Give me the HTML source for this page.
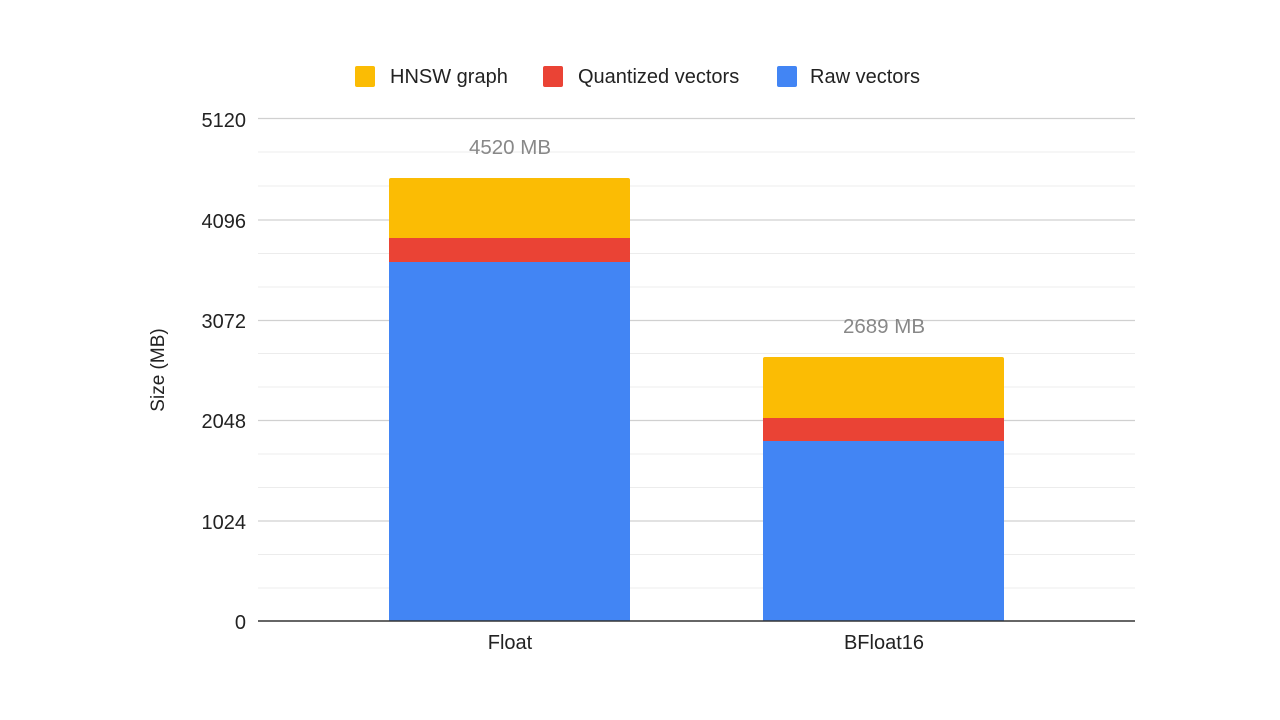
<!DOCTYPE html>
<html><head><meta charset="utf-8"><style>
html,body{margin:0;padding:0;background:#fff}
svg{display:block;font-family:"Liberation Sans",Arial,sans-serif}
</style></head><body>
<svg width="1280" height="720" viewBox="0 0 1280 720">
<g stroke="#ececec" stroke-width="1">
<line x1="258" x2="1135" y1="152" y2="152"/><line x1="258" x2="1135" y1="186" y2="186"/>
<line x1="258" x2="1135" y1="253.5" y2="253.5"/><line x1="258" x2="1135" y1="287" y2="287"/>
<line x1="258" x2="1135" y1="353.5" y2="353.5"/><line x1="258" x2="1135" y1="387" y2="387"/>
<line x1="258" x2="1135" y1="454" y2="454"/><line x1="258" x2="1135" y1="487.5" y2="487.5"/>
<line x1="258" x2="1135" y1="554.5" y2="554.5"/><line x1="258" x2="1135" y1="588" y2="588"/>
</g>
<g stroke="#d0d0d0" stroke-width="1.3">
<line x1="258" x2="1135" y1="118.5" y2="118.5"/><line x1="258" x2="1135" y1="220" y2="220"/>
<line x1="258" x2="1135" y1="320.5" y2="320.5"/><line x1="258" x2="1135" y1="420.5" y2="420.5"/>
<line x1="258" x2="1135" y1="521" y2="521"/>
</g>
<rect x="389" y="262" width="241" height="359" fill="#4285f4"/>
<rect x="389" y="238" width="241" height="24" fill="#ea4335"/>
<path d="M389 238 V180 a2 2 0 0 1 2 -2 H628 a2 2 0 0 1 2 2 V238 Z" fill="#fbbc04"/>
<rect x="763" y="441" width="241" height="180" fill="#4285f4"/>
<rect x="763" y="418" width="241" height="23" fill="#ea4335"/>
<path d="M763 418 V359 a2 2 0 0 1 2 -2 H1002 a2 2 0 0 1 2 2 V418 Z" fill="#fbbc04"/>
<line x1="258" x2="1135" y1="621" y2="621" stroke="#333" stroke-width="1.5"/>
<g font-size="20" fill="#222" text-anchor="end">
<text x="246" y="127">5120</text><text x="246" y="228">4096</text><text x="246" y="328">3072</text>
<text x="246" y="428">2048</text><text x="246" y="529">1024</text><text x="246" y="629">0</text>
</g>
<text transform="translate(164,370) rotate(-90)" font-size="19" fill="#222" text-anchor="middle">Size (MB)</text>
<g font-size="20" fill="#222" text-anchor="middle">
<text x="510" y="649">Float</text><text x="884" y="649">BFloat16</text>
</g>
<g font-size="20.5" fill="#888" text-anchor="middle">
<text x="510" y="154">4520 MB</text><text x="884" y="333">2689 MB</text>
</g>
<rect x="355" y="66" width="20" height="21" rx="2" fill="#fbbc04"/>
<rect x="543" y="66" width="20" height="21" rx="2" fill="#ea4335"/>
<rect x="777" y="66" width="20" height="21" rx="2" fill="#4285f4"/>
<g font-size="20" fill="#222">
<text x="390" y="83">HNSW graph</text><text x="578" y="83">Quantized vectors</text><text x="810" y="83">Raw vectors</text>
</g>
</svg>
</body></html>
